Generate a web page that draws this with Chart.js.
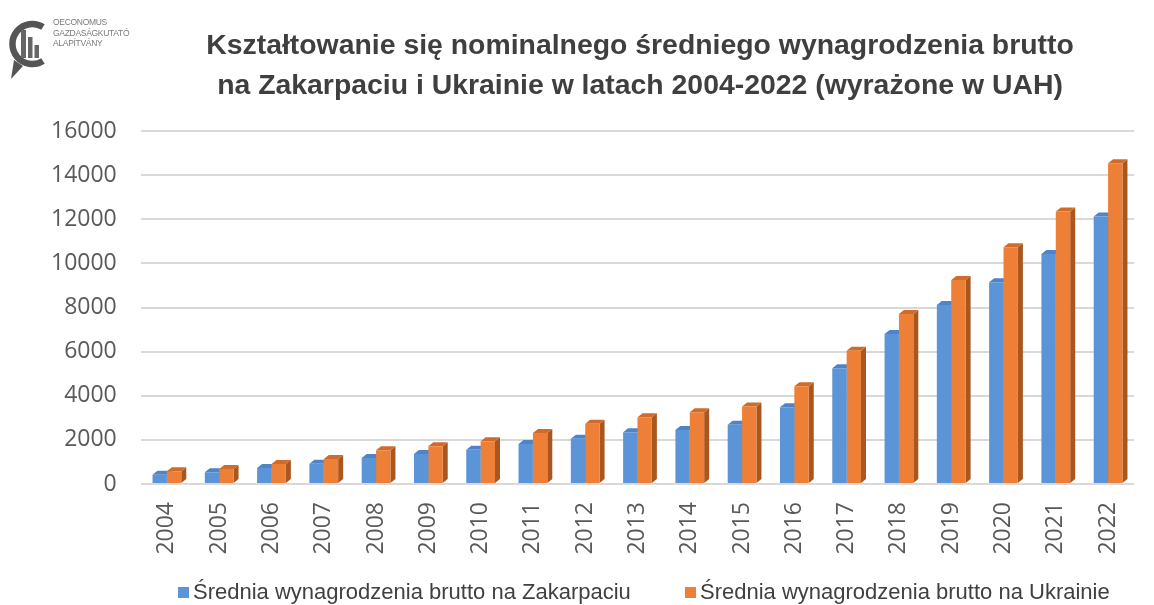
<!DOCTYPE html>
<html>
<head>
<meta charset="utf-8">
<script src="https://cdn.jsdelivr.net/npm/chart.js@4.4.1/dist/chart.umd.min.js"></script>
<style>
  html, body { margin: 0; padding: 0; background: #ffffff; }
  #wrap { position: relative; width: 1154px; height: 605px; overflow: hidden; }
  #c { position: absolute; left: 0; top: 0; }
  #title { position: absolute; left: 130px; width: 1020px; top: 24px; text-align: center;
    font-family: "Liberation Sans", Arial, sans-serif; font-weight: bold; font-size: 28.4px;
    line-height: 40px; color: #3f3f3f; white-space: nowrap; }
  #logo { position: absolute; left: 6px; top: 10px; }
  #logotext { position: absolute; left: 53px; top: 17px; font-family: "Liberation Sans", Arial, sans-serif;
    font-size: 8.5px; line-height: 10.5px; color: #7a7a7a; letter-spacing: -0.3px; }
  #legend { position: absolute; left: 0; width: 1154px; top: 578px; height: 28px; }
  .li { position: absolute; top: 0; font-family: "Liberation Sans", Arial, sans-serif; font-size: 22px;
    line-height: 28px; color: #404040; white-space: nowrap; }
  .sw { display: inline-block; width: 11px; height: 11px; margin-right: 4px; vertical-align: 1px; }
</style>
</head>
<body>
<div id="wrap">
  <canvas id="c" width="1154" height="605"></canvas>
  <svg id="logo" width="48" height="72" viewBox="0 0 48 72">
    <path d="M37 17 A 20 20 0 1 0 37 51" fill="none" stroke="#555" stroke-width="6.5"/>
    <path d="M8 50 L17 56 L5 69 Z" fill="#555"/>
    <rect x="15" y="20" width="5" height="28" fill="#666"/>
    <rect x="22" y="27" width="4.5" height="21" fill="#666"/>
    <rect x="28.5" y="35" width="4.5" height="13" fill="#666"/>
  </svg>
  <div id="logotext">OECONOMUS<br>GAZDASÁGKUTATÓ<br>ALAPÍTVÁNY</div>
  <div id="title">Kształtowanie się nominalnego średniego wynagrodzenia brutto<br>na Zakarpaciu i Ukrainie w latach 2004-2022 (wyrażone w UAH)</div>
  <div id="legend"></div>
</div>
<script>
const years = ["2004","2005","2006","2007","2008","2009","2010","2011","2012","2013","2014","2015","2016","2017","2018","2019","2020","2021","2022"];
const zakarpacie = [420, 530, 725, 920, 1180, 1360, 1555, 1810, 2055, 2340, 2450, 2690, 3475, 5245, 6800, 8115, 9145, 10430, 12120];
const ukraina = [575, 680, 905, 1135, 1530, 1710, 1935, 2310, 2735, 3020, 3250, 3510, 4430, 6045, 7705, 9250, 10730, 12350, 14540];
const seriesNames = ["Średnia wynagrodzenia brutto na Zakarpaciu", "Średnia wynagrodzenia brutto na Ukrainie"];
const yTicks = [0, 2000, 4000, 6000, 8000, 10000, 12000, 14000, 16000];

const frontColors = ["#5b95d8", "#ee7f36"];
const sideColors = ["#3b6aa6", "#a9561f"];
const topColors = ["#4f84c6", "#cf6c2b"];

// HTML legend built from the series names
const legendX = [178, 685];
const legendEl = document.getElementById("legend");
seriesNames.forEach((name, i) => {
  const d = document.createElement("div");
  d.className = "li";
  d.style.left = legendX[i] + "px";
  d.innerHTML = '<span class="sw" style="background:' + frontColors[i] + '"></span>' + name;
  legendEl.appendChild(d);
});

const bar3d = {
  id: "bar3d",
  beforeDatasetsDraw(chart) {
    const ctx = chart.ctx;
    const dx = 5, dy = 4;
    ctx.save();
    chart.data.datasets.forEach((ds, di) => {
      const meta = chart.getDatasetMeta(di);
      meta.data.forEach(el => {
        const { x, y, base, width } = el.getProps(["x", "y", "base", "width"], true);
        const l = x - width / 2, r = x + width / 2;
        ctx.fillStyle = sideColors[di];
        ctx.beginPath();
        ctx.moveTo(r, y); ctx.lineTo(r + dx, y - dy); ctx.lineTo(r + dx, base - dy); ctx.lineTo(r, base);
        ctx.closePath(); ctx.fill();
        ctx.fillStyle = topColors[di];
        ctx.beginPath();
        ctx.moveTo(l, y); ctx.lineTo(l + dx, y - dy); ctx.lineTo(r + dx, y - dy); ctx.lineTo(r, y);
        ctx.closePath(); ctx.fill();
      });
    });
    ctx.restore();
  }
};

new Chart(document.getElementById("c"), {
  type: "bar",
  data: {
    labels: years,
    datasets: [
      { label: seriesNames[0], data: zakarpacie, backgroundColor: frontColors[0], borderWidth: 0 },
      { label: seriesNames[1], data: ukraina, backgroundColor: frontColors[1], borderWidth: 0 }
    ]
  },
  options: {
    responsive: false,
    animation: false,
    devicePixelRatio: 1,
    layout: { padding: { top: 131, left: 27, right: 12, bottom: 0 } },
    datasets: { bar: { barPercentage: 1.0, categoryPercentage: 0.55 } },
    plugins: {
      title: { display: false },
      tooltip: { enabled: false },
      legend: { display: false }
    },
    scales: {
      x: {
        grid: { display: false, drawTicks: false },
        border: { display: false },
        afterFit(scale) { scale.height = 121; },
        ticks: {
          minRotation: 90, maxRotation: 90, padding: 18, autoSkip: false,
          color: "#595959",
          font: { family: "'Open Sans', sans-serif", size: 23 }
        }
      },
      y: {
        min: 0, max: 16000,
        afterBuildTicks(scale) { scale.ticks = yTicks.map(v => ({ value: v })); },
        grid: { color: "#d9d9d9", lineWidth: 2, drawTicks: false },
        border: { display: false },
        ticks: {
          padding: 24,
          color: "#595959",
          font: { family: "'Open Sans', sans-serif", size: 23 },
          callback: (v) => String(v)
        }
      }
    }
  },
  plugins: [bar3d]
});
</script>
</body>
</html>
